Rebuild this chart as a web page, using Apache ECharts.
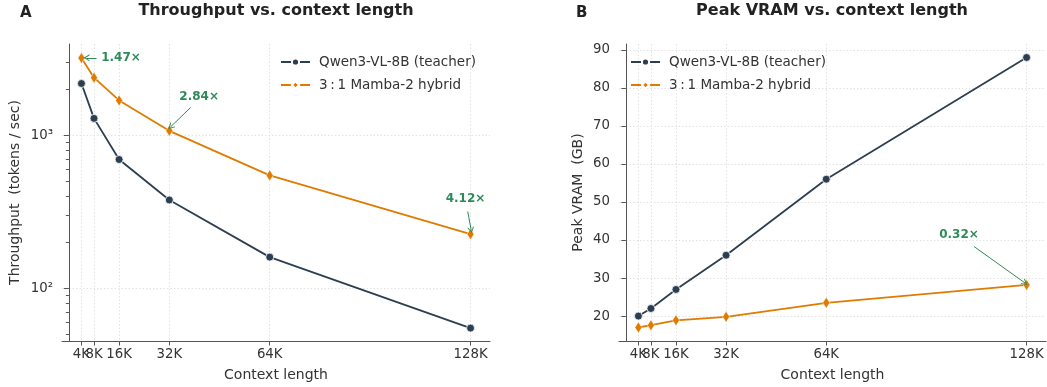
<!DOCTYPE html>
<html><head><meta charset="utf-8">
<script src="https://cdn.jsdelivr.net/npm/echarts@6/dist/echarts.min.js"></script>
<style>html,body{margin:0;padding:0;background:#fff}#c{width:1047px;height:387px}</style>
</head><body><div id="c"></div>
<script>
// ---- data ----
const contextK = [4, 8, 16, 32, 64, 128];
const xTickLabels = ['4K', '8K', '16K', '32K', '64K', '128K'];
const seriesNames = ['Qwen3-VL-8B (teacher)', '3\u2009:\u20091 Mamba-2 hybrid'];
const teacherThroughput = [2180, 1290, 695, 378, 160, 55];
const hybridThroughput = [3200, 2380, 1690, 1070, 547, 226];
const teacherVram = [20, 22, 27, 36, 56, 88];
const hybridVram = [17, 17.6, 18.9, 19.8, 23.5, 28.2];
const throughputTicks = [100, 1000];
const throughputTickLabels = ['10\u00b2', '10\u00b3'];
const throughputMinorTicks = [50, 60, 70, 80, 90, 200, 300, 400, 500, 600, 700, 800, 900, 2000, 3000];
const vramTicks = [20, 30, 40, 50, 60, 70, 80, 90];
const speedupLabels = ['1.47\u00d7', '2.84\u00d7', '4.12\u00d7'];
const vramRatioLabels = ['0.32\u00d7'];

// ---- annotation layout (data coordinates of text & arrow) ----
const speedupLayout = [
  { text: [16.6, 3206], from: [8.8, 3206], to: [5.6, 3206] },
  { text: [41.5, 1790], from: [38.8, 1520], to: [32.4, 1135] },
  { text: [126.4, 385], from: [127.1, 318], to: [128.2, 240] }
];
const vramLayout = [
  { text: [106.4, 41.3], from: [111.2, 38.3], to: [127.5, 28.7] }
];

// ---- styles ----
const C_TEACH = '#2c3e50';
const C_HYB = '#e07b00';
const C_ANN = '#2e8b57';
const C_TEXT = '#333';
const FONT = 'DejaVu Sans';
const arrowPath = 'path://M5,0 L10,10 L8.4,10 L5,3.2 L1.6,10 L0,10 Z';

function pairs(xs, ys) { return xs.map((x, i) => [x, ys[i]]); }

function annotations(labels, layout) {
  return {
    markLine: {
      silent: true, animation: false,
      symbol: ['none', arrowPath], symbolSize: [7, 6],
      lineStyle: { color: C_ANN, width: 1, type: 'solid' },
      label: { show: false },
      emphasis: { disabled: true },
      data: layout.map(a => [{ coord: a.from }, { coord: a.to }])
    },
    markPoint: {
      silent: true, animation: false,
      symbol: 'circle', symbolSize: 1,
      itemStyle: { color: 'rgba(0,0,0,0)' },
      label: { show: true, position: 'inside', formatter: p => p.name,
        color: C_ANN, fontWeight: 'bold', fontSize: 12, fontFamily: FONT },
      data: layout.map((a, i) => ({ name: labels[i], coord: a.text }))
    }
  };
}

const gridLine = { show: true, lineStyle: { color: '#dcdcdc', width: 0.8, type: [1.5, 2] } };
const axisLine = { show: true, lineStyle: { color: '#555', width: 1 } };
const labelStyle = { color: C_TEXT, fontSize: 13.3, fontFamily: FONT };
const nameStyle = { color: C_TEXT, fontSize: 14, fontFamily: FONT };
const xLabel = v => xTickLabels[contextK.indexOf(v)];

function xAxes(gridIndex) {
  return [{
    type: 'value', gridIndex, position: 'bottom', min: -2.2, max: 134.2,
    name: 'Context length', nameLocation: 'middle', nameGap: 27,
    nameTextStyle: nameStyle,
    axisLine, splitLine: gridLine,
    axisTick: { show: true, length: 4.5, lineStyle: { color: '#555' }, customValues: contextK },
    axisLabel: Object.assign({ margin: 7, customValues: contextK.slice(1), formatter: xLabel }, labelStyle)
  }, {
    // overlay axis carrying only the first (overlapping) tick label
    type: 'value', gridIndex, position: 'bottom', min: -2.2, max: 134.2,
    axisLine: { show: false }, splitLine: { show: false }, axisTick: { show: false },
    axisLabel: Object.assign({ margin: 7, customValues: contextK.slice(0, 1), formatter: xLabel }, labelStyle)
  }];
}

const teacherSeriesStyle = {
  type: 'line', symbol: 'circle', symbolSize: 8,
  lineStyle: { color: C_TEACH, width: 1.8 },
  itemStyle: { color: C_TEACH, borderColor: '#fff', borderWidth: 0.8 },
  z: 3, animation: false
};
const hybridSeriesStyle = {
  type: 'line', symbol: 'diamond', symbolSize: [7, 11],
  lineStyle: { color: C_HYB, width: 1.8 },
  itemStyle: { color: C_HYB, borderColor: '#fff', borderWidth: 0.5 },
  z: 3, animation: false
};

const titleStyle = { fontSize: 16, fontWeight: 'bold', color: '#222', fontFamily: FONT };
const legendBase = { orient: 'vertical', itemWidth: 29, itemHeight: 9, itemGap: 9, padding: 0,
  textStyle: Object.assign({ padding: [0, 0, 0, 4] }, labelStyle, { fontSize: 13.5 }),
  data: seriesNames };

const option = {
  animation: false,
  backgroundColor: '#fff',
  textStyle: { fontFamily: FONT },
  title: [
    { text: 'Throughput vs. context length', left: 276, top: 3, padding: 0, textAlign: 'center', textStyle: titleStyle },
    { text: 'Peak VRAM vs. context length', left: 832, top: 3, padding: 0, textAlign: 'center', textStyle: titleStyle },
    { text: 'A', left: 20, top: 6, padding: 0, textStyle: Object.assign({}, titleStyle, { fontSize: 15 }) },
    { text: 'B', left: 576, top: 6, padding: 0, textStyle: Object.assign({}, titleStyle, { fontSize: 15 }) }
  ],
  legend: [
    Object.assign({ left: 280, top: 55 }, legendBase),
    Object.assign({ left: 630, top: 55 }, legendBase)
  ],
  grid: [
    { left: 62, top: 44, width: 428, height: 299 },
    { left: 619, top: 44, width: 427, height: 299 }
  ],
  xAxis: xAxes(0).concat(xAxes(1)),
  yAxis: [
    { type: 'log', logBase: 10, gridIndex: 0, min: 45.3, max: 3950, position: 'left',
      name: 'Throughput  (tokens / sec)', nameLocation: 'middle', nameGap: 40,
      nameTextStyle: nameStyle,
      axisLine, splitLine: gridLine,
      axisTick: { show: true, length: 5, lineStyle: { color: '#555' }, customValues: throughputTicks },
      axisLabel: Object.assign({ margin: 9, customValues: throughputTicks,
        formatter: v => throughputTickLabels[throughputTicks.indexOf(Math.round(v))] }, labelStyle) },
    { type: 'log', logBase: 10, gridIndex: 0, min: 45.3, max: 3950, position: 'left',
      axisLine: { show: false }, splitLine: { show: false }, axisLabel: { show: false },
      axisTick: { show: true, length: 3, lineStyle: { color: '#555' }, customValues: throughputMinorTicks } },
    { type: 'value', gridIndex: 1, min: 13.45, max: 91.55, position: 'left',
      name: 'Peak VRAM  (GB)', nameLocation: 'middle', nameGap: 34,
      nameTextStyle: nameStyle,
      axisLine, splitLine: gridLine,
      axisTick: { show: true, length: 4.5, lineStyle: { color: '#555' }, customValues: vramTicks },
      axisLabel: Object.assign({ margin: 9, customValues: vramTicks }, labelStyle) }
  ],
  series: [
    Object.assign({ name: seriesNames[0], xAxisIndex: 0, yAxisIndex: 0,
      data: pairs(contextK, teacherThroughput) }, teacherSeriesStyle),
    Object.assign({ name: seriesNames[1], xAxisIndex: 0, yAxisIndex: 0,
      data: pairs(contextK, hybridThroughput) }, hybridSeriesStyle,
      annotations(speedupLabels, speedupLayout)),
    Object.assign({ name: seriesNames[0], xAxisIndex: 2, yAxisIndex: 2,
      data: pairs(contextK, teacherVram) }, teacherSeriesStyle),
    Object.assign({ name: seriesNames[1], xAxisIndex: 2, yAxisIndex: 2,
      data: pairs(contextK, hybridVram) }, hybridSeriesStyle,
      annotations(vramRatioLabels, vramLayout))
  ]
};

const chart = echarts.init(document.getElementById('c'), null, { renderer: 'canvas' });
chart.setOption(option);
</script>
</body></html>
